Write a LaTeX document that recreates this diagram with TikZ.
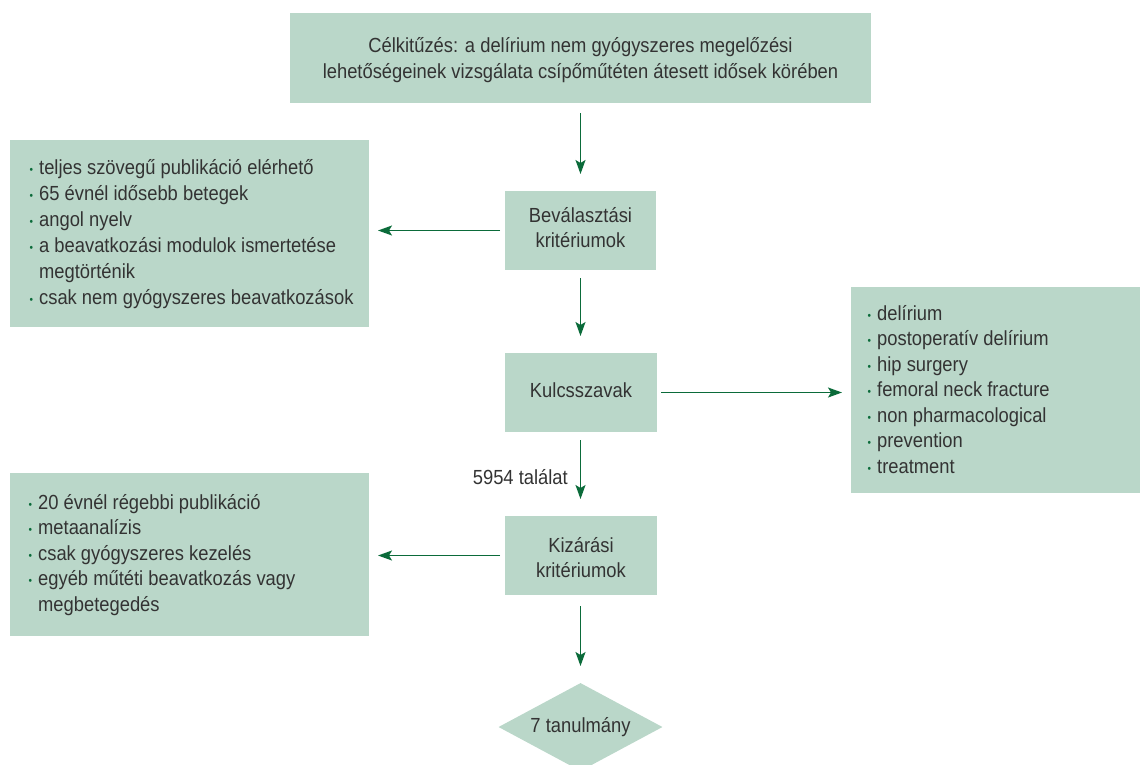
\documentclass[tikz,border=0pt]{standalone}
\usepackage{fontspec}
\setmainfont[FakeStretch=0.9]{Liberation Sans}
\usetikzlibrary{arrows.meta,shapes.geometric}
\definecolor{boxfill}{HTML}{BAD7C9}
\definecolor{arrowgreen}{HTML}{0B6B3A}
\definecolor{txt}{HTML}{333333}
\newcommand{\bl}{\raisebox{1pt}{\textcolor{arrowgreen}{\fontsize{11}{11}\selectfont\textbullet}}}
\tikzset{
  box/.style={fill=boxfill, draw=none, inner sep=0pt},
  txtnode/.style={text=txt, inner sep=0pt, font=\fontsize{20.4}{25}\selectfont},
  flow/.style={draw=arrowgreen, line width=1.4pt, -{Stealth[length=14pt,width=10pt,inset=3pt]}},
}
\begin{document}
\begin{tikzpicture}[x=1pt,y=-1pt]
\useasboundingbox (0,0) rectangle (1140,764);
\clip (0,0) rectangle (1140,764);
% boxes
\node[box, minimum width=581pt, minimum height=90pt] (goal) at (580.5,58) {};
\node[txtnode, align=center, font=\fontsize{20.4}{26}\selectfont] (goalt) at (580.5,60) {Célkitűzés: a delírium nem gyógyszeres megelőzési\\lehetőségeinek vizsgálata csípőműtéten átesett idősek körében};

\node[box, minimum width=151pt, minimum height=79pt] (bev) at (580.5,230.5) {};
\node[txtnode, align=center] (bevt) at (580.5,228) {Beválasztási\\kritériumok};

\node[box, minimum width=359pt, minimum height=187pt] (inc) at (189.5,233.5) {};
\node[txtnode, anchor=west, font=\fontsize{20.4}{26}\selectfont] (inct) at (29.5,234.5) {\begin{tabular}{@{}l@{\hspace{6pt}}l@{}}
\bl & teljes szövegű publikáció elérhető\\
\bl & 65 évnél idősebb betegek\\
\bl & angol nyelv\\
\bl & a beavatkozási modulok ismertetése\\
    & megtörténik\\
\bl & csak nem gyógyszeres beavatkozások
\end{tabular}};

\node[box, minimum width=152pt, minimum height=79pt] (kulcs) at (581,392.5) {};
\node[txtnode] (kulcst) at (581,390) {Kulcsszavak};

\node[box, minimum width=300pt, minimum height=206pt, anchor=west] (kw) at (851,390) {};
\node[txtnode, anchor=west, font=\fontsize{20.4}{25.5}\selectfont] (kwt) at (867.5,391.5) {\begin{tabular}{@{}l@{\hspace{6pt}}l@{}}
\bl & delírium\\
\bl & postoperatív delírium\\
\bl & hip surgery\\
\bl & femoral neck fracture\\
\bl & non pharmacological\\
\bl & prevention\\
\bl & treatment
\end{tabular}};

\node[box, minimum width=152pt, minimum height=79pt] (kiz) at (581,555.5) {};
\node[txtnode, align=center] (kizt) at (581,558) {Kizárási\\kritériumok};

\node[box, minimum width=359pt, minimum height=163pt] (exc) at (189.5,554.5) {};
\node[txtnode, anchor=west, font=\fontsize{20.4}{25.5}\selectfont] (exct) at (28.5,555) {\begin{tabular}{@{}l@{\hspace{6pt}}l@{}}
\bl & 20 évnél régebbi publikáció\\
\bl & metaanalízis\\
\bl & csak gyógyszeres kezelés\\
\bl & egyéb műtéti beavatkozás vagy\\
    & megbetegedés
\end{tabular}};

\node[box, diamond, minimum width=164pt, minimum height=88pt] (res) at (580.5,727) {};
\node[txtnode] (rest) at (580.5,727) {7 tanulmány};

% connectors
\coordinate (a1s) at (580.5,113);
\coordinate (a1e) at (580.5,174);
\draw[flow] (a1s) -- (a1e);
\coordinate (a2s) at (500,230.5);
\coordinate (a2e) at (378,230.5);
\draw[flow] (a2s) -- (a2e);
\coordinate (a3s) at (580.5,278);
\coordinate (a3e) at (580.5,336);
\draw[flow] (a3s) -- (a3e);
\coordinate (a4s) at (661,392.5);
\coordinate (a4e) at (842,392.5);
\draw[flow] (a4s) -- (a4e);
\coordinate (a5s) at (580.5,440);
\coordinate (a5e) at (580.5,499);
\draw[flow] (a5s) -- (a5e);
\node[txtnode, anchor=east] (hits) at (568,477) {5954 találat};
\coordinate (a6s) at (500,555.5);
\coordinate (a6e) at (378,555.5);
\draw[flow] (a6s) -- (a6e);
\coordinate (a7s) at (580.5,606);
\coordinate (a7e) at (580.5,666);
\draw[flow] (a7s) -- (a7e);
\end{tikzpicture}
\end{document}
